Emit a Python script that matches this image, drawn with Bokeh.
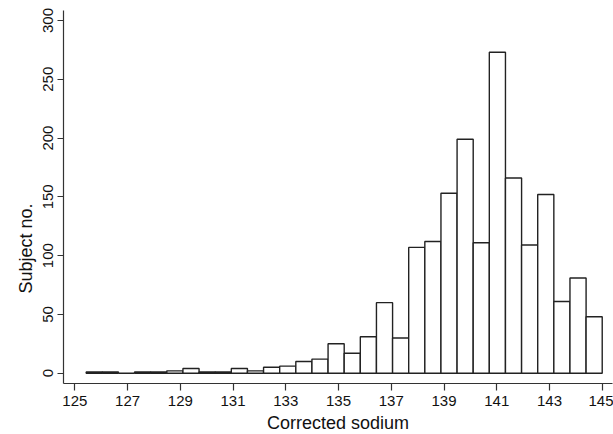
import numpy as np
from bokeh.plotting import figure
from bokeh.models import Range1d, FixedTicker, Title
from bokeh.embed import file_html
from bokeh.resources import INLINE

# Histogram of corrected sodium (bin start, bin end, counts)
bin_start = 125.43
bin_end = 145.0
counts = [1, 1, 0, 1, 1, 2, 4, 1, 1, 4, 2, 5, 6, 10, 12, 25,
          17, 31, 60, 30, 107, 112, 153, 199, 111, 273, 166, 109, 152, 61, 81, 48]
x_ticks = [125, 127, 129, 131, 133, 135, 137, 139, 141, 143, 145]
y_ticks = [0, 50, 100, 150, 200, 250, 300]

edges = np.linspace(bin_start, bin_end, len(counts) + 1)

p = figure(frame_width=549, frame_height=373, output_backend="svg",
           toolbar_location=None, min_border_left=63, min_border_top=10,
           min_border_right=1, min_border_bottom=5,
           x_range=Range1d(124.57, 145.39), y_range=Range1d(-8.76, 308.5))

p.quad(left=edges[:-1], right=edges[1:], bottom=0, top=counts,
       fill_color="white", line_color="#222222", line_width=1.4)

p.grid.visible = False
p.outline_line_color = None
p.background_fill_color = "white"
p.border_fill_color = "white"

font = "Liberation Sans"
for ax in (p.xaxis[0], p.yaxis[0]):
    ax.axis_line_color = "#333333"
    ax.axis_line_width = 1.2
    ax.major_tick_line_color = "#333333"
    ax.major_tick_line_width = 1.2
    ax.minor_tick_line_color = None
    ax.major_tick_in = 0
    ax.major_label_text_font = font
    ax.major_label_text_font_size = "15px"
    ax.major_label_text_color = "#111111"
    ax.axis_label_text_font = font
    ax.axis_label_text_font_size = "18px"
    ax.axis_label_text_font_style = "normal"
    ax.axis_label_text_color = "#111111"

p.xaxis.ticker = FixedTicker(ticks=x_ticks)
p.yaxis.ticker = FixedTicker(ticks=y_ticks)
p.xaxis.axis_label = "Corrected sodium"
p.xaxis.major_tick_out = 7
p.yaxis.major_tick_out = 6
p.xaxis.major_label_standoff = 5
p.yaxis.major_label_standoff = 4
p.yaxis.major_label_orientation = "vertical"
p.xaxis.axis_label_standoff = 4

# y-axis title (offset below the frame centre as in the original)
p.add_layout(Title(text="Subject no.", align="left", offset=90,
                   text_font=font, text_font_size="18px",
                   text_font_style="normal", text_color="#111111",
                   standoff=10), "left")

open("out.html", "w").write(file_html(p, INLINE))
